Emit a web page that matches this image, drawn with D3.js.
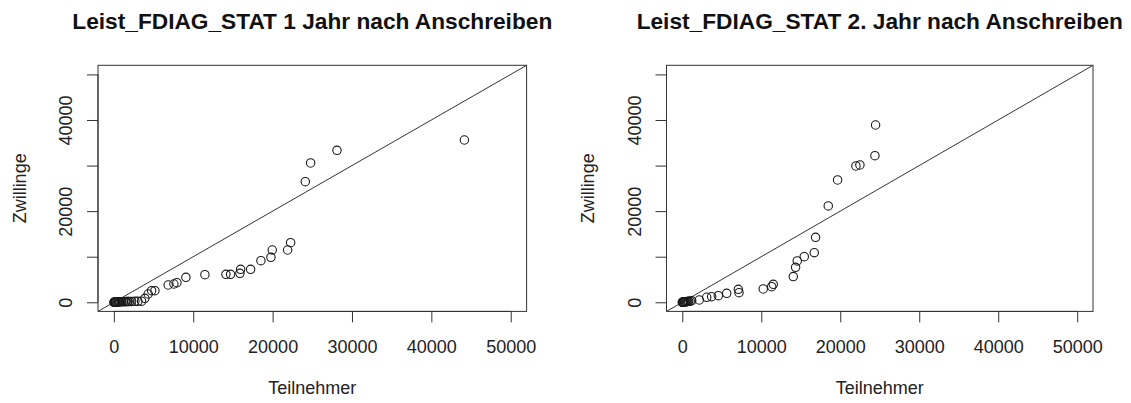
<!DOCTYPE html>
<html>
<head>
<meta charset="utf-8">
<script src="https://cdn.jsdelivr.net/npm/d3@7"></script>
<style>
  body { margin: 0; background: #fff; }
  text { font-family: "Liberation Sans", Arial, sans-serif; }
</style>
</head>
<body>
<div id="chart"></div>
<script>
const W = 1131, H = 403;
const FONT = '"Liberation Sans", Arial, sans-serif';

// titles and labels
const TITLES = ["Leist_FDIAG_STAT 1 Jahr nach Anschreiben", "Leist_FDIAG_STAT 2. Jahr nach Anschreiben"];
const X_LABEL = "Teilnehmer";
const Y_LABEL = "Zwillinge";
const TICKS = [0, 10000, 20000, 30000, 40000, 50000];
const Y_LABELLED = [0, 20000, 40000];
const LIMITS = [-2000, 52000];

// panel 1 : 1 Jahr nach Anschreiben
const teil1 = [0, 50, 100, 150, 200, 300, 400, 500, 600, 700, 800, 1000, 1200, 1400, 1500, 1700, 1800, 2000,
  2230, 2650, 3025, 3490,
  3907, 4323, 4752, 5168, 6844, 7562, 7940, 9075, 11470, 14117, 14705, 15880, 15970, 17230, 18528,
  19789, 19953, 21893, 22271, 24118, 24790, 28109, 44160];
const zw1 = [0, 10, 20, 30, 40, 50, 60, 80, 90, 95, 100, 120, 130, 140, 150, 155, 160, 170,
  180, 200, 220, 250,
  878, 1821, 2545, 2545, 3796, 4015, 4300, 5485, 6056, 6143, 6143, 6363, 7240, 7240, 9128,
  9874, 11476, 11476, 13077, 26472, 30567, 33346, 35612];

// panel 2 : 2. Jahr nach Anschreiben
const teil2 = [0, 30, 50, 100, 150, 200, 300, 400, 500, 600, 700, 800, 1000, 1190, 2150, 3090, 3720, 4560, 5620,
  7090, 7180, 10250, 11320, 11520, 14051, 14346, 14557, 15443, 16709, 16878, 18481, 19662, 21983,
  22489, 24388, 24473];
const zw2 = [0, 5, 10, 30, 40, 50, 80, 100, 130, 150, 180, 200, 250, 350, 500, 1100, 1230, 1450, 1975,
  2850, 2100, 2920, 3420, 3950, 5631, 7678, 9068, 10018, 10896, 14260, 21133, 26837, 29909,
  30128, 32176, 38903];

const TOP = 65.3, BOTTOM = 311.4;
const panels = [
  { title: TITLES[0], xs: teil1, ys: zw1, left: 98, right: 526.6 },
  { title: TITLES[1], xs: teil2, ys: zw2, left: 666.5, right: 1093 }
];

const svg = d3.select('#chart').append('svg')
  .attr('width', W)
  .attr('height', H);

panels.forEach((p, i) => {
  const x = d3.scaleLinear().domain(LIMITS).range([p.left, p.right]);
  const y = d3.scaleLinear().domain(LIMITS).range([BOTTOM, TOP]);
  const cx = (p.left + p.right) / 2;
  const g = svg.append('g');

  // title
  g.append('text')
    .attr('x', cx)
    .attr('y', 29)
    .attr('text-anchor', 'middle')
    .attr('font-weight', 'bold')
    .attr('font-size', '22.7px')
    .attr('fill', '#111')
    .text(p.title);

  // x axis
  const gx = g.append('g')
    .attr('transform', `translate(0,${BOTTOM})`)
    .call(d3.axisBottom(x).tickValues(TICKS).tickSize(11).tickSizeOuter(0).tickFormat(d3.format('d')))
    .attr('font-size', 18)
    .attr('font-family', FONT);
  gx.select('.domain').remove();
  gx.selectAll('line').attr('stroke', '#333');
  gx.selectAll('text').attr('y', 41.3).attr('dy', 0).attr('fill', '#222');
  gx.append('line')
    .attr('x1', x(TICKS[0])).attr('x2', x(TICKS[TICKS.length - 1]))
    .attr('stroke', '#333');

  // y axis
  const gy = g.append('g')
    .attr('transform', `translate(${p.left},0)`)
    .call(d3.axisLeft(y).tickValues(TICKS).tickSize(11).tickSizeOuter(0)
      .tickFormat(d => Y_LABELLED.includes(d) ? String(d) : ''))
    .attr('font-size', 18)
    .attr('font-family', FONT);
  gy.select('.domain').remove();
  gy.selectAll('line').attr('stroke', '#333');
  gy.selectAll('text')
    .attr('x', null).attr('dy', 0)
    .attr('text-anchor', 'middle')
    .attr('transform', 'translate(-26,0) rotate(-90)')
    .attr('fill', '#222');
  gy.append('line')
    .attr('y1', y(TICKS[0])).attr('y2', y(TICKS[TICKS.length - 1]))
    .attr('stroke', '#333');

  // box
  g.append('rect')
    .attr('x', p.left).attr('y', TOP)
    .attr('width', p.right - p.left).attr('height', BOTTOM - TOP)
    .attr('fill', 'none')
    .attr('stroke', '#333');

  // axis labels
  g.append('text')
    .attr('x', cx)
    .attr('y', 393.5)
    .attr('text-anchor', 'middle')
    .attr('font-size', '18px')
    .attr('fill', '#222')
    .text(X_LABEL);

  g.append('text')
    .attr('transform', `translate(${p.left - 72.5},${(TOP + BOTTOM) / 2}) rotate(-90)`)
    .attr('text-anchor', 'middle')
    .attr('font-size', '18px')
    .attr('fill', '#222')
    .text(Y_LABEL);

  // clip for the reference line
  const clipId = 'clip' + i;
  g.append('clipPath').attr('id', clipId)
    .append('rect')
    .attr('x', p.left).attr('y', TOP)
    .attr('width', p.right - p.left).attr('height', BOTTOM - TOP);

  g.append('line')
    .attr('clip-path', `url(#${clipId})`)
    .attr('x1', x(LIMITS[0])).attr('y1', y(LIMITS[0]))
    .attr('x2', x(LIMITS[1])).attr('y2', y(LIMITS[1]))
    .attr('stroke', '#333')
    .attr('stroke-width', 1);

  // points
  g.append('g').selectAll('circle')
    .data(p.xs.map((v, k) => [v, p.ys[k]]))
    .join('circle')
      .attr('cx', d => x(d[0]))
      .attr('cy', d => y(d[1]))
      .attr('r', 4.2)
      .attr('fill', 'none')
      .attr('stroke', '#1a1a1a')
      .attr('stroke-width', 1.1);
});
</script>
</body>
</html>
